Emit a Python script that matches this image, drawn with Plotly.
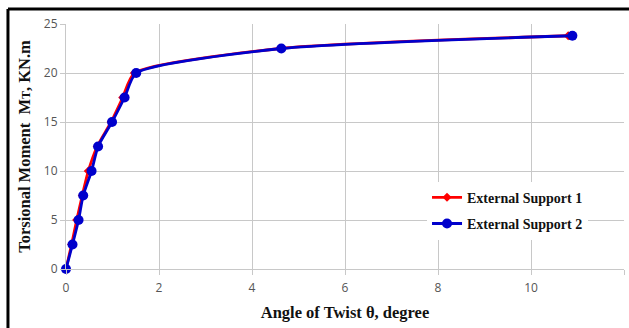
import plotly.graph_objects as go

# Data
moment = [0, 2.5, 5, 7.5, 10, 12.5, 15, 17.5, 20, 22.5, 23.8]
twist_s1 = [0, 0.12, 0.23, 0.35, 0.48, 0.67, 0.97, 1.22, 1.47, 4.6, 10.8]
twist_s2 = [0, 0.14, 0.27, 0.37, 0.55, 0.69, 0.99, 1.26, 1.51, 4.63, 10.89]
x_ticks = [0, 2, 4, 6, 8, 10, 12]
y_ticks = [0, 5, 10, 15, 20, 25]

serif = "Liberation Serif"
tickfont = dict(family="Open Sans", size=12, color="#555555")

fig = go.Figure()
fig.add_trace(go.Scatter(
    x=twist_s1, y=moment, name="<b>External Support 1</b>", mode="lines+markers",
    legendgroup="a", cliponaxis=False,
    line=dict(color="#ff0000", width=2.8, shape="spline", smoothing=0.6),
    marker=dict(symbol="diamond", size=7, color="#ff0000"),
))
fig.add_trace(go.Scatter(
    x=twist_s2, y=moment, name="<b>External Support 2</b>", mode="lines+markers",
    legendgroup="b", cliponaxis=False,
    line=dict(color="#0000cc", width=2.8, shape="spline", smoothing=0.6),
    marker=dict(symbol="circle", size=10, color="#0000cc"),
))

axis_common = dict(
    showgrid=True, gridcolor="#c8c8c8", gridwidth=1,
    showline=True, linecolor="#c8c8c8", linewidth=1,
    ticks="outside", ticklen=5, tickcolor="#c8c8c8",
    tickfont=tickfont, zeroline=False,
)

fig.update_layout(
    width=629, height=328,
    margin=dict(l=66, r=5, t=24, b=59),
    paper_bgcolor="white", plot_bgcolor="white",
    showlegend=True,
    legend=dict(
        x=0.647, y=0.238, xanchor="left", yanchor="middle",
        bgcolor="white", borderwidth=0,
        font=dict(family=serif, size=14, color="#111111"),
        tracegroupgap=5, itemwidth=30,
    ),
    xaxis=dict(
        range=[0, 12], tickvals=x_ticks, ticklabelstandoff=3,
        title=dict(text="<b>Angle of Twist θ, degree</b>",
                   font=dict(family=serif, size=16.5, color="#111111"), standoff=11),
        **axis_common,
    ),
    yaxis=dict(
        range=[0, 25], tickvals=y_ticks,
        title=dict(text="<b>Torsional Moment  M<span style='font-size:12px'>T</span>, KN.m</b>",
                   font=dict(family=serif, size=16.5, color="#111111"), standoff=9),
        **axis_common,
    ),
    shapes=[
        dict(type="line", xref="paper", yref="paper", x0=-0.104, x1=1.2,
             y0=1.061, y1=1.061, line=dict(color="black", width=3)),
        dict(type="line", xref="paper", yref="paper", x0=-0.104, x1=-0.104,
             y0=-0.4, y1=1.061, line=dict(color="black", width=3)),
    ],
)

fig.write_html("out.html")
